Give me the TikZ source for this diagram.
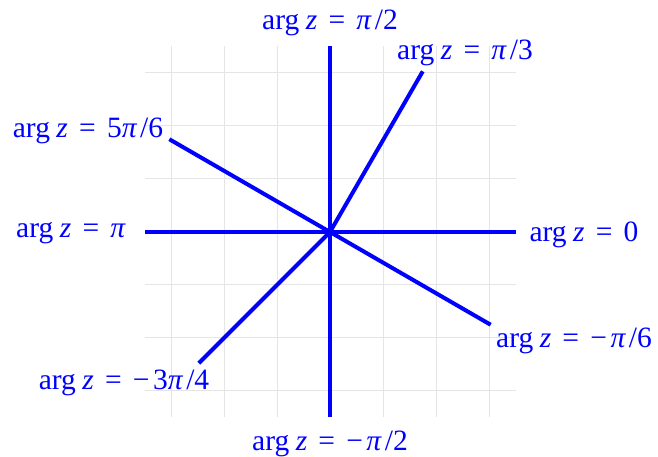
\documentclass[tikz,border=0pt]{standalone}
\usepackage{fontspec}
\setmainfont{Liberation Serif}
\usetikzlibrary{calc}
\newcommand{\argeq}[1]{arg\hspace{0.22em}\textit{z}\hspace{0.38em}=\hspace{0.38em}#1}
\newcommand{\piv}{\textit{π}\hspace{0.1em}}
\begin{document}
\begin{tikzpicture}[x=1pt,y=1pt,
  ray/.style={draw=blue, line width=4pt},
  gridline/.style={draw=black!10, line width=1pt},
  lbl/.style={text=blue, font=\fontsize{29.5}{34}\selectfont, inner sep=0pt}]
\useasboundingbox (0,0) rectangle (658,457);
\def\u{53}
\coordinate (O) at (330,225);
% grid
\foreach \i in {-3,...,3} {
  \draw[gridline] ($(O)+(\i*\u,-3.5*\u)$) -- ($(O)+(\i*\u,3.5*\u)$);
  \draw[gridline] ($(O)+(-3.5*\u,\i*\u)$) -- ($(O)+(3.5*\u,\i*\u)$);
}
% ray ends
\coordinate (E0) at ($(O)+(0:3.5*\u)$);
\coordinate (E1) at ($(O)+(90:3.5*\u)$);
\coordinate (E2) at ($(O)+(60:3.5*\u)$);
\coordinate (E3) at ($(O)+(150:3.5*\u)$);
\coordinate (E4) at ($(O)+(180:3.5*\u)$);
\coordinate (E5) at ($(O)+(-30:3.5*\u)$);
\coordinate (E6) at ($(O)+(-135:3.5*\u)$);
\coordinate (E7) at ($(O)+(-90:3.5*\u)$);
\foreach \e in {E0,E1,E2,E3,E4,E5,E6,E7} \draw[ray] (O) -- (\e);
% labels
\node[lbl] (L1) at (330,434) {\argeq{\piv/2}};
\node[lbl] (L2) at (465,404) {\argeq{\piv/3}};
\node[lbl] (L3) at (88,326) {\argeq{5\piv/6}};
\node[lbl] (L4) at (71,224) {\argeq{\textit{π}}};
\node[lbl] (L5) at (584,222) {\argeq{0}};
\node[lbl] (L6) at (574,116) {\argeq{−\hspace{0.12em}\piv/6}};
\node[lbl] (L7) at (124,74) {\argeq{−\hspace{0.12em}3\piv/4}};
\node[lbl] (L8) at (330,13) {\argeq{−\hspace{0.12em}\piv/2}};
\end{tikzpicture}
\end{document}
